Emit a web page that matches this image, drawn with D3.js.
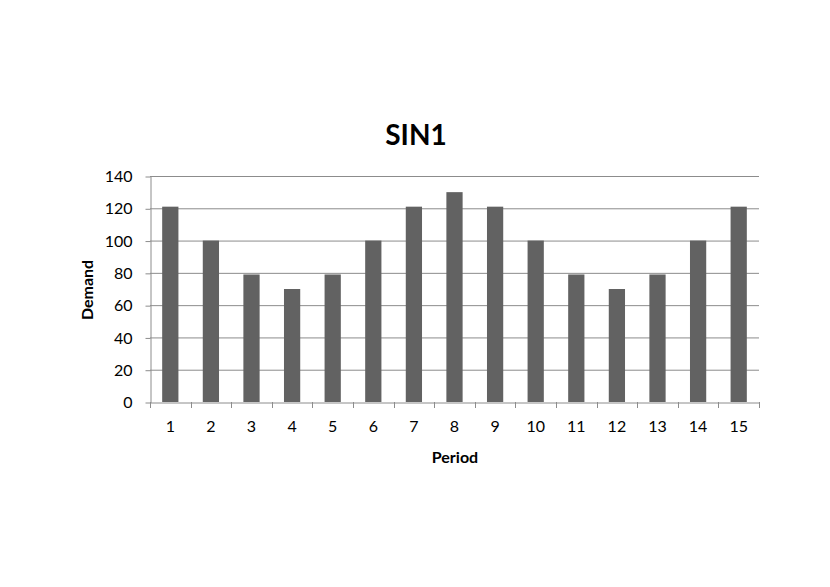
<!DOCTYPE html>
<html>
<head>
<meta charset="utf-8">
<script src="https://cdn.jsdelivr.net/npm/d3@7"></script>
<style>
  body { margin: 0; background: #fff; }
  text { font-family: Lato, "Open Sans", sans-serif; }
</style>
</head>
<body>
<script>
// Chart data
var periods = ["1", "2", "3", "4", "5", "6", "7", "8", "9", "10", "11", "12", "13", "14", "15"];
var demand = [121, 100, 79, 70, 79, 100, 121, 130, 121, 100, 79, 70, 79, 100, 121];
var yTicks = [0, 20, 40, 60, 80, 100, 120, 140];

var width = 830,
    height = 587;

var plot = { left: 150, right: 759, top: 176, bottom: 402 };

var svg = d3.select("body")
    .append("svg")
    .attr("width", width)
    .attr("height", height);

var x = d3.scaleBand()
    .domain(periods)
    .range([plot.left, plot.right])
    .paddingInner(0.6)
    .paddingOuter(0.3);

var y = d3.scaleLinear()
    .domain([0, 140])
    .range([plot.bottom, plot.top]);

// Gridlines
svg.selectAll(".grid")
    .data(yTicks.filter(function (d) { return d > 0; }))
    .enter()
    .append("line")
    .attr("class", "grid")
    .attr("x1", plot.left)
    .attr("x2", plot.right)
    .attr("y1", function (d) { return y(d) + 0.5; })
    .attr("y2", function (d) { return y(d) + 0.5; })
    .attr("stroke", "#8c8c8c")
    .attr("stroke-width", 1);

// Bars
svg.selectAll(".bar")
    .data(demand)
    .enter()
    .append("rect")
    .attr("class", "bar")
    .attr("x", function (d, i) { return x(periods[i]); })
    .attr("width", x.bandwidth())
    .attr("y", function (d) { return y(d); })
    .attr("height", function (d) { return y(0) - y(d); })
    .attr("fill", "#626262");

// Y axis
var yAxis = svg.append("g")
    .attr("transform", "translate(" + (plot.left + 0.5) + ",0.5)")
    .call(d3.axisLeft(y).tickValues(yTicks).tickSizeInner(5).tickSizeOuter(0).tickPadding(13));

// X axis, ticks at category boundaries
var xAxis = svg.append("g")
    .attr("transform", "translate(0," + (plot.bottom + 0.5) + ")")
    .call(d3.axisBottom(x).tickSize(0).tickPadding(18));

var step = x.step();
svg.selectAll(".xtick")
    .data(d3.range(periods.length + 1))
    .enter()
    .append("line")
    .attr("class", "xtick")
    .attr("x1", function (i) { return Math.round(plot.left + i * (plot.right - plot.left) / periods.length) + 0.5; })
    .attr("x2", function (i) { return Math.round(plot.left + i * (plot.right - plot.left) / periods.length) + 0.5; })
    .attr("y1", plot.bottom)
    .attr("y2", plot.bottom + 6)
    .attr("stroke", "#8c8c8c");

[yAxis, xAxis].forEach(function (g) {
    g.selectAll("path, line").attr("stroke", "#8c8c8c");
    g.selectAll("text")
        .attr("font-family", "Lato, sans-serif")
        .attr("font-size", 16)
        .attr("fill", "#000");
});

// Title and axis labels
svg.append("text")
    .attr("x", 416)
    .attr("y", 145)
    .attr("text-anchor", "middle")
    .attr("font-size", 28)
    .attr("font-weight", "bold")
    .text("SIN1");

svg.append("text")
    .attr("x", 455)
    .attr("y", 463)
    .attr("text-anchor", "middle")
    .attr("font-size", 16)
    .attr("font-weight", "bold")
    .text("Period");

svg.append("text")
    .attr("transform", "translate(93,290) rotate(-90)")
    .attr("text-anchor", "middle")
    .attr("font-size", 16)
    .attr("font-weight", "bold")
    .text("Demand");
</script>
</body>
</html>
